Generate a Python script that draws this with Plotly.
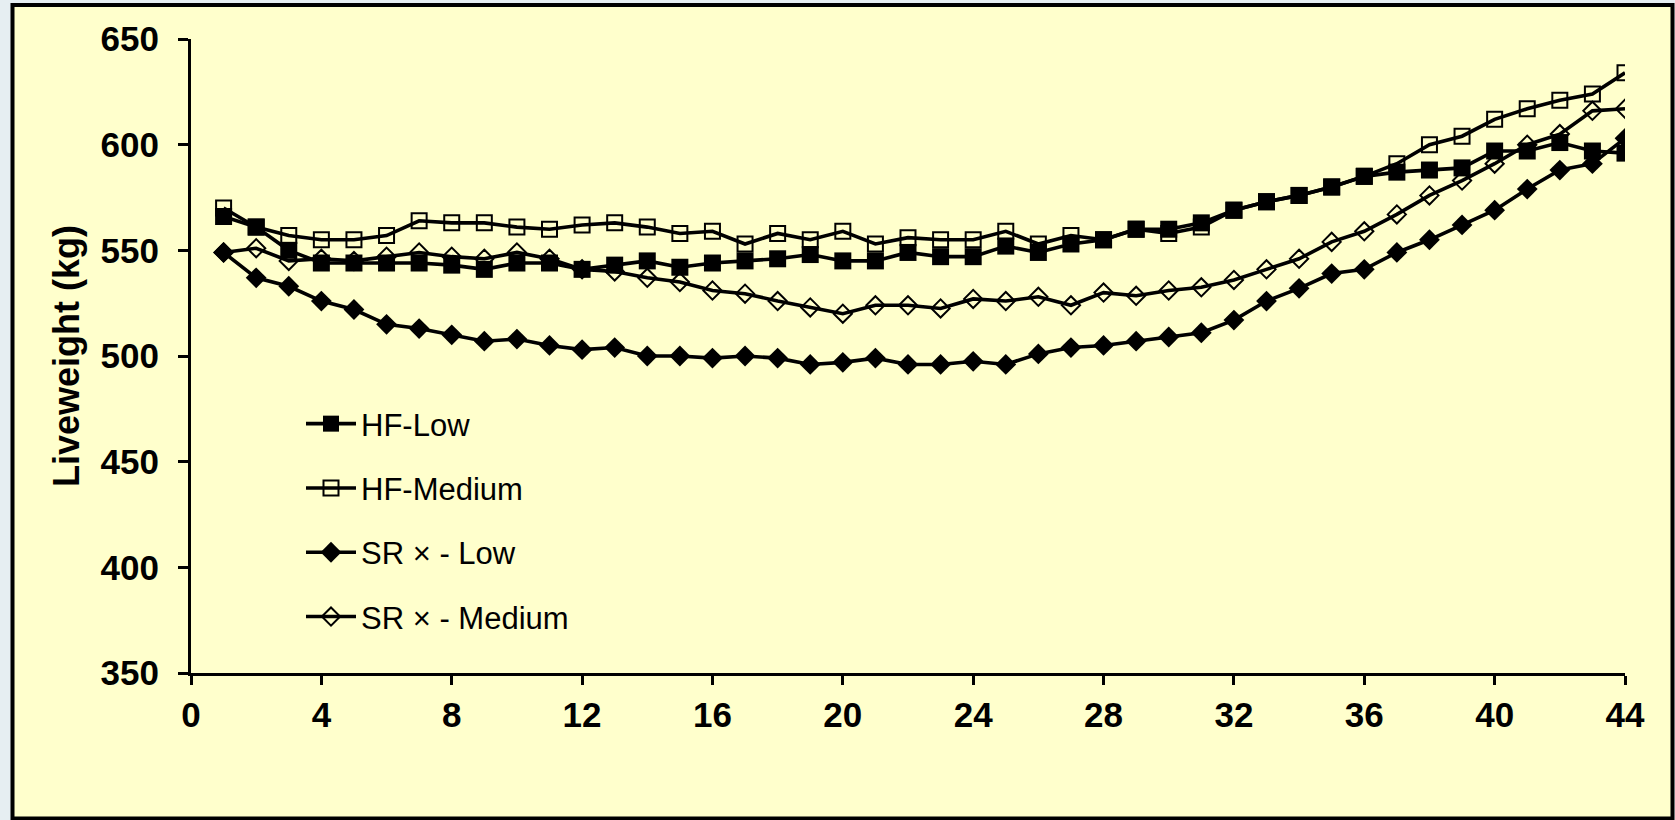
import plotly.graph_objects as go

weeks = list(range(1, 45))

hf_low = [566, 561, 550, 544, 544, 544, 544, 543, 541, 544, 544, 541, 543, 545, 542,
          544, 545, 546, 548, 545, 545, 549, 547, 547, 552, 549, 553, 555, 560, 560,
          563, 569, 573, 576, 580, 585, 587, 588, 589, 597, 597, 601, 597, 596]

hf_medium = [570, 561, 557, 555, 555, 557, 564, 563, 563, 561, 560, 562, 563, 561, 558,
             559, 553, 558, 555, 559, 553, 556, 555, 555, 559, 553, 557, 555, 560, 558,
             561, 569, 573, 576, 580, 585, 591, 600, 604, 612, 617, 621, 624, 634]

sr_low = [549, 537, 533, 526, 522, 515, 513, 510, 507, 508, 505, 503, 504, 500, 500,
          499, 500, 499, 496, 497, 499, 496, 496, 497.5, 496, 501, 504, 505, 507, 509,
          511, 517, 526, 532, 539, 541, 549, 555, 562, 569, 579, 588, 591, 603]

sr_medium = [549, 551, 545, 546, 545, 547, 549, 547, 546, 549, 546, 541, 540, 537, 535,
             531, 529.5, 526, 523, 520, 524, 524, 522.5, 527, 526, 528, 524, 530, 528.5, 531,
             532.5, 536, 541, 546, 554, 559, 567, 576, 583, 591, 600, 605, 616, 617]

series_names = ["HF-Low", "HF-Medium", "SR \u00d7 - Low", "SR \u00d7 - Medium"]
x_ticks = [0, 4, 8, 12, 16, 20, 24, 28, 32, 36, 40, 44]
y_ticks = [350, 400, 450, 500, 550, 600, 650]

FONT = "Liberation Sans, Arial, sans-serif"

styles = [
    dict(symbol="square", size=17, lw=0),
    dict(symbol="square-open", size=15, lw=2),
    dict(symbol="diamond", size=16, lw=0),
    dict(symbol="diamond-open", size=14, lw=2),
]

fig = go.Figure()
for name, vals, st in zip(series_names, [hf_low, hf_medium, sr_low, sr_medium], styles):
    fig.add_trace(go.Scatter(
        x=weeks, y=vals, name=name, mode="lines+markers",
        line=dict(color="black", width=3.6),
        marker=dict(color="black", symbol=st["symbol"], size=st["size"],
                    line=dict(color="black", width=st["lw"])),
        legendgroup=name,
    ))

L, R, T, B = 191, 50, 39, 147
W, H = 1675, 820
pw, ph = W - L - R, H - T - B

def px_x(x):
    return (x - L) / pw

def px_y(y):
    return (H - B - y) / ph

fig.add_shape(type="rect", xref="paper", yref="paper",
              x0=px_x(12.5), x1=px_x(1672.5), y0=px_y(818.5), y1=px_y(5),
              fillcolor="#FFFFCC", line=dict(color="black", width=4), layer="below")

fig.update_layout(
    width=W, height=H,
    margin=dict(l=L, r=R, t=T, b=B, pad=0),
    paper_bgcolor="#E6EEF2",
    plot_bgcolor="rgba(0,0,0,0)",
    showlegend=True,
    legend=dict(x=px_x(301), y=px_y(397), xanchor="left", yanchor="top",
                bgcolor="rgba(0,0,0,0)", tracegroupgap=21, itemwidth=50,
                font=dict(family=FONT, size=31, color="black")),
    xaxis=dict(range=[0, 44], tickvals=x_ticks, showgrid=False, zeroline=False,
               showline=True, linecolor="black", linewidth=3,
               ticks="outside", ticklen=9, tickwidth=3, tickcolor="black",
               tickfont=dict(family=FONT, size=35, color="black", weight="bold")),
    yaxis=dict(range=[350, 650], tickvals=y_ticks, showgrid=False, zeroline=False,
               showline=True, linecolor="black", linewidth=3,
               ticks="outside", ticklen=10, tickwidth=3, tickcolor="black",
               ticklabelstandoff=12,
               tickfont=dict(family=FONT, size=35, color="black", weight="bold"),
               title=dict(text="Liveweight (kg)", standoff=10,
                          font=dict(family=FONT, size=36, color="black", weight="bold"))),
)

fig.write_html("out.html", config={"displayModeBar": False},
               post_script="document.body.style.margin='0';document.body.style.background='#E6EEF2';")
